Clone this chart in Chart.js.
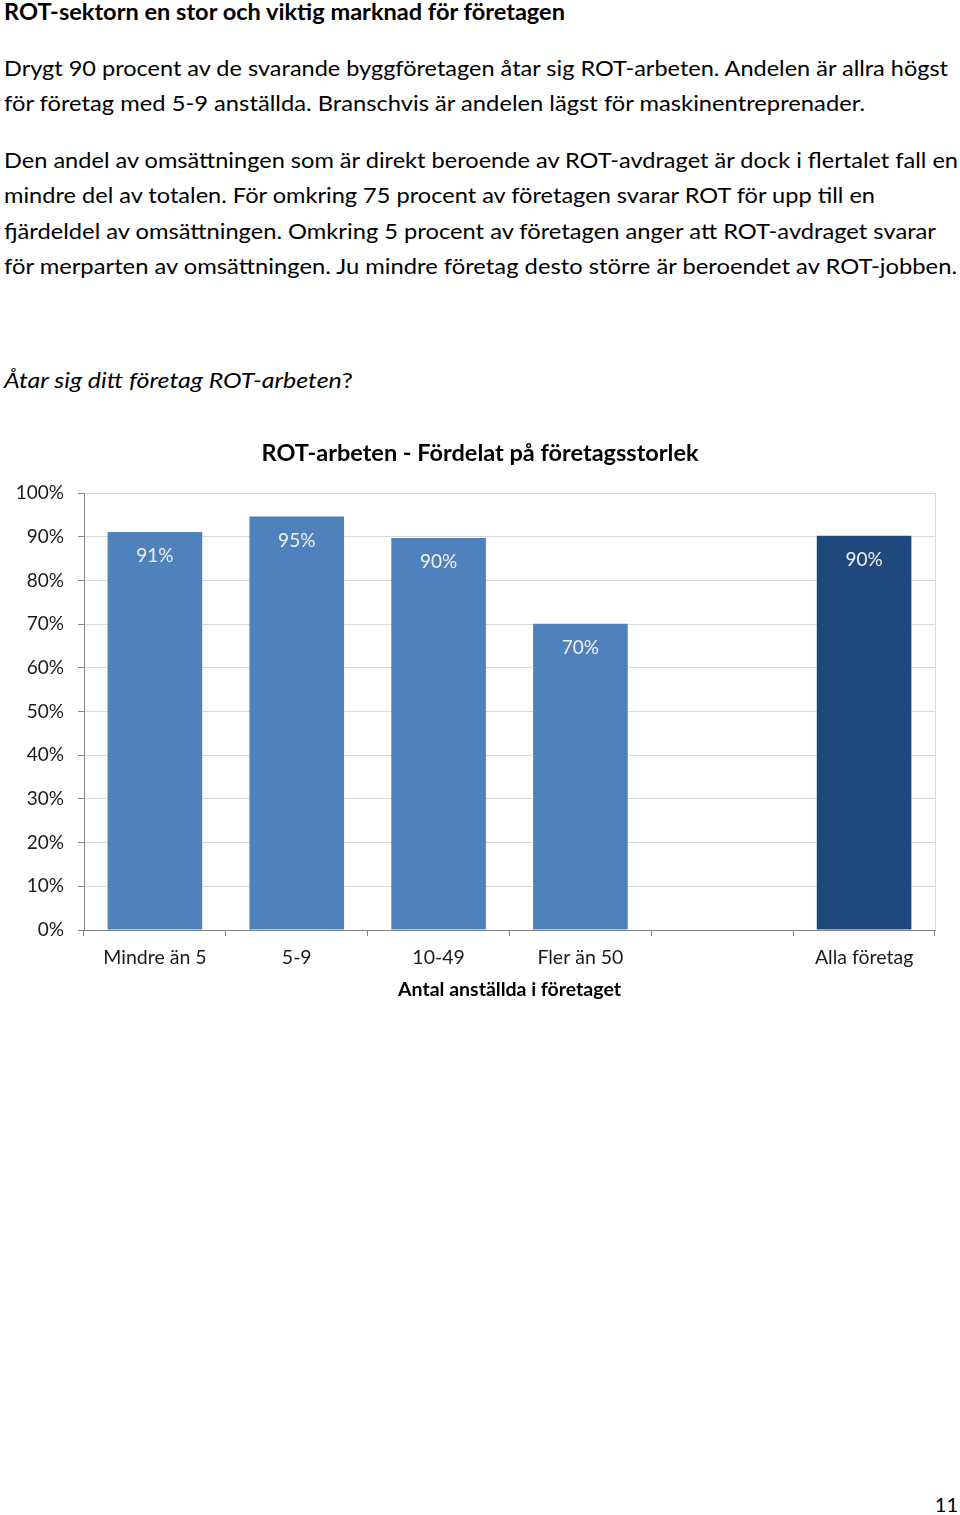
<!DOCTYPE html>
<html>
<head>
<meta charset="utf-8">
<script src="https://cdn.jsdelivr.net/npm/chart.js@4/dist/chart.umd.min.js"></script>
<style>
  html, body { margin: 0; padding: 0; background: #fff; }
  body { width: 960px; height: 1515px; position: relative; overflow: hidden;
         font-family: Lato, "Noto Sans", sans-serif; color: #000; }
  .line { position: absolute; left: 4px; white-space: nowrap; font-size: 22px;
          line-height: 30px; transform-origin: 0 50%; }
  .b { font-weight: bold; }
  #chartBox { position: absolute; left: 0; top: 420px; width: 960px; height: 600px; }
  #pageNo { position: absolute; right: 2px; top: 1492px; font-size: 20px; }
</style>
</head>
<body>
<div class="line b" style="top:-3px" data-w="561">ROT-sektorn en stor och viktig marknad för företagen</div>
<div class="line" style="top:53px" data-w="944">Drygt 90 procent av de svarande byggföretagen åtar sig ROT-arbeten. Andelen är allra högst</div>
<div class="line" style="top:88px" data-w="861">för företag med 5-9 anställda. Branschvis är andelen lägst för maskinentreprenader.</div>
<div class="line" style="top:145px" data-w="954">Den andel av omsättningen som är direkt beroende av ROT-avdraget är dock i flertalet fall en</div>
<div class="line" style="top:180px" data-w="871">mindre del av totalen. För omkring 75 procent av företagen svarar ROT för upp till en</div>
<div class="line" style="top:216px" data-w="932">fjärdeldel av omsättningen. Omkring 5 procent av företagen anger att ROT-avdraget svarar</div>
<div class="line" style="top:251px" data-w="953">för merparten av omsättningen. Ju mindre företag desto större är beroendet av ROT-jobben.</div>
<div class="line" style="top:365px" data-w="349"><i>Åtar sig ditt företag ROT-arbeten</i>?</div>

<div id="chartBox"><canvas id="chart"></canvas></div>
<div id="pageNo">11</div>

<script>
// data
const categories = ["Mindre än 5", "5-9", "10-49", "Fler än 50", "", "Alla företag"];
const shares = [91.1, 94.6, 89.7, 70.1, null, 90.2];
const yTicks = [0, 10, 20, 30, 40, 50, 60, 70, 80, 90, 100];

const chartTitle = "ROT-arbeten - Fördelat på företagsstorlek";
const xTitle = "Antal anställda i företaget";

// stretch text lines to the width they have in the picture
document.querySelectorAll(".line").forEach(el => {
    const w = el.getBoundingClientRect().width;
    const target = +el.dataset.w;
    if (w > 0) el.style.transform = "scaleX(" + (target / w) + ")";
});

const FONT = "Lato, 'Noto Sans', sans-serif";
const LIGHT = "#4f81bd";
const DARK = "#1f497d";

// labels inside the bars, near the top
const barLabels = {
    id: "barLabels",
    afterDatasetsDraw(chart) {
        const ctx = chart.ctx;
        const meta = chart.getDatasetMeta(0);
        ctx.save();
        ctx.font = "19px " + FONT;
        ctx.fillStyle = "#f2f2f2";
        ctx.textAlign = "center";
        ctx.textBaseline = "middle";
        meta.data.forEach((bar, i) => {
            const v = shares[i];
            if (v == null) return;
            ctx.fillText(Math.round(v) + "%", bar.x, bar.y + 24);
        });
        ctx.restore();
    }
};

// chart title centred on the page width (not on the plot)
const pageTitle = {
    id: "pageTitle",
    afterDraw(chart) {
        const ctx = chart.ctx;
        ctx.save();
        ctx.font = "bold 23.5px " + FONT;
        ctx.fillStyle = "#000";
        ctx.textAlign = "center";
        ctx.textBaseline = "middle";
        ctx.fillText(chartTitle, chart.width / 2, 33);
        ctx.restore();
    }
};

// thin border on the right side of the plot area
const rightBorder = {
    id: "rightBorder",
    beforeDatasetsDraw(chart) {
        const a = chart.chartArea;
        const ctx = chart.ctx;
        ctx.save();
        ctx.strokeStyle = "#d9d9d9";
        ctx.lineWidth = 1;
        ctx.beginPath();
        ctx.moveTo(Math.round(a.right) + 0.5, a.top);
        ctx.lineTo(Math.round(a.right) + 0.5, a.bottom);
        ctx.stroke();
        ctx.restore();
    }
};

new Chart(document.getElementById("chart"), {
    type: "bar",
    data: {
        labels: categories,
        datasets: [{
            data: shares,
            backgroundColor: ctx => ctx.dataIndex === categories.length - 1 ? DARK : LIGHT,
            barPercentage: 1,
            categoryPercentage: 0.667
        }]
    },
    options: {
        responsive: true,
        maintainAspectRatio: false,
        animation: false,
        layout: { padding: { left: 0, right: 25, top: 73, bottom: 19 } },
        plugins: {
            legend: { display: false },
            tooltip: { enabled: false },
            title: { display: false }
        },
        scales: {
            x: {
                afterFit: s => { s.height = 71; },
                grid: { drawOnChartArea: false, color: "#868686", tickLength: 6 },
                border: { color: "#868686" },
                ticks: { color: "#1a1a1a", padding: 10, font: { family: FONT, size: 19.5 } },
                title: {
                    display: true,
                    text: xTitle,
                    color: "#000",
                    font: { family: FONT, size: 19.5, weight: "bold" },
                    padding: { top: 8, bottom: 0 }
                }
            },
            y: {
                min: 0,
                max: 100,
                afterFit: s => { s.width = 84; },
                afterBuildTicks: s => { s.ticks = yTicks.map(v => ({ value: v })); },
                grid: { color: "#d9d9d9", tickColor: "#868686", tickLength: 6 },
                border: { color: "#868686" },
                ticks: {
                    color: "#1a1a1a",
                    padding: 14,
                    font: { family: FONT, size: 19 },
                    callback: v => v + "%"
                }
            }
        }
    },
    plugins: [barLabels, rightBorder, pageTitle]
});
</script>
</body>
</html>
